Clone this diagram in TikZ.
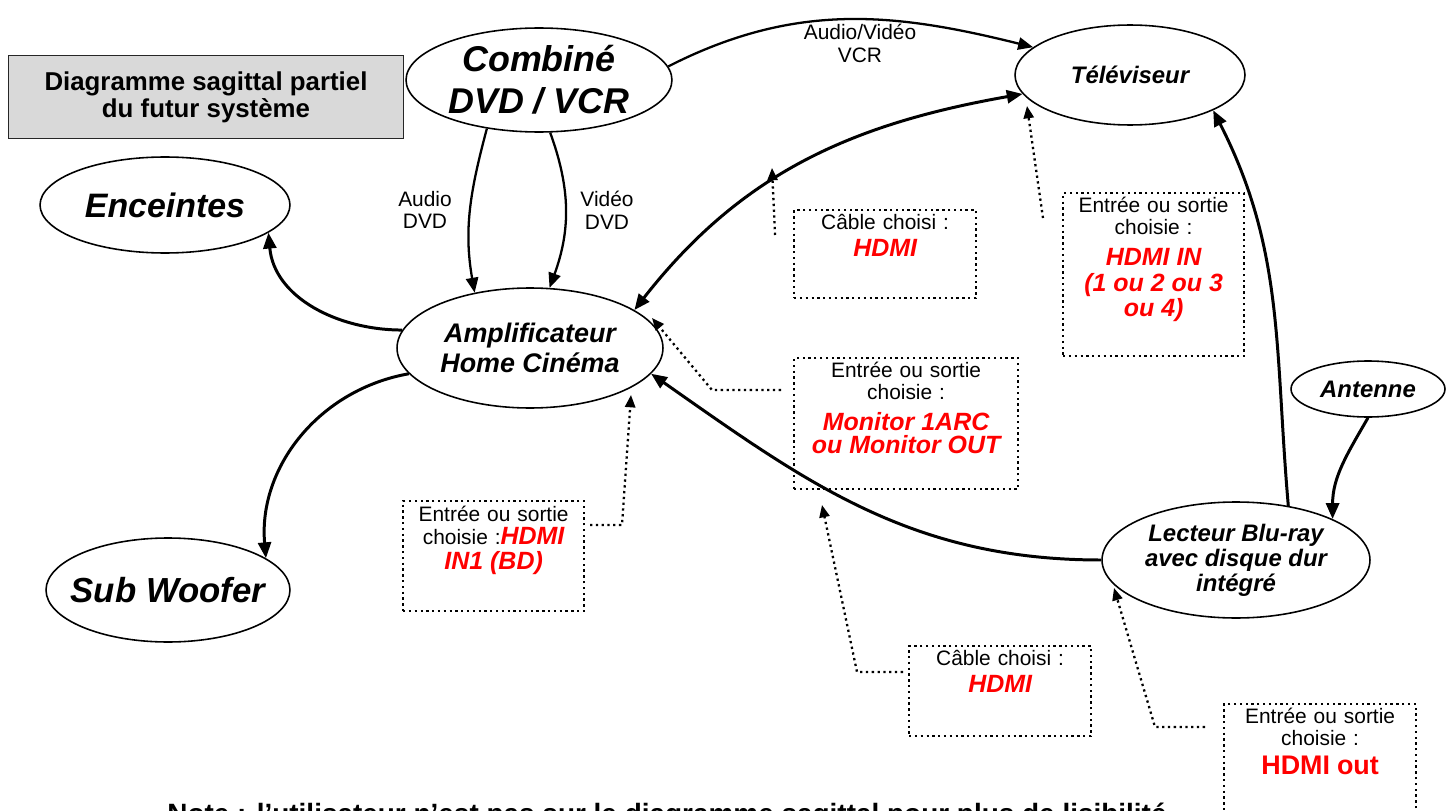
\documentclass[tikz,border=0pt]{standalone}
\usepackage{fontspec}
\setmainfont{Liberation Sans}
\usetikzlibrary{arrows.meta,shapes.geometric}

\newcommand{\taille}[2]{\fontsize{#1}{#2}\selectfont}
\newcommand{\rouge}{\color{red}\bfseries\itshape\taille{14.2}{14.6}}

\tikzset{
  bulle/.style={draw, ellipse, line width=0.9pt, inner sep=0pt},
  titre/.style={draw=black!85, fill=gray!30, line width=1pt, align=center,
    font=\bfseries\taille{14.7}{15.3}, minimum width=7.9cm, minimum height=1.66cm},
  lien/.style={line width=1.7pt, -{Triangle[length=9pt,width=7.4pt]}},
  lienbi/.style={line width=1.7pt, {Triangle[length=9pt,width=7.4pt]}-{Triangle[length=9pt,width=7.4pt]}},
  fin/.style={line width=1.3pt, -{Triangle[length=8.5pt,width=7pt]}},
  pointille/.style={line width=1.3pt, dash pattern=on 1.3pt off 2pt},
  renvoi/.style={pointille, -{Triangle[length=7pt,width=5.8pt]}},
  cadre/.style={draw, pointille, anchor=north west, inner sep=0pt},
  cadretxt/.style={anchor=north, align=center, inner sep=0pt, font=\taille{11.9}{13}},
  lbl/.style={align=center, font=\taille{11.9}{13}},
}

\begin{document}
\begin{tikzpicture}[x=0.02cm, y=-0.02cm]
\useasboundingbox (0,0) rectangle (1451,811);
\clip (0,0) rectangle (1451,811);

\node[titre] (titre) at (206,97) {Diagramme sagittal partiel\\du futur système};

\node[bulle, minimum width=5.32cm, minimum height=2.08cm,
  label={[align=center, font=\bfseries\itshape\taille{20.4}{23.8}]center:Combiné\\DVD / VCR}] (combi) at (539,80) {};
\node[bulle, minimum width=4.6cm, minimum height=2cm,
  label={[font=\bfseries\itshape\taille{13.6}{15}]center:Téléviseur}] (tele) at (1130,75) {};
\node[bulle, minimum width=5cm, minimum height=1.92cm,
  label={[font=\bfseries\itshape\taille{19.3}{21}]center:Enceintes}] (enc) at (165,205) {};
\node[bulle, minimum width=5.32cm, minimum height=2.4cm,
  label={[align=center, font=\bfseries\itshape\taille{15.3}{17}]center:Amplificateur\\Home Cinéma}] (ampli) at (530,348) {};
\node[bulle, minimum width=4.88cm, minimum height=2.08cm,
  label={[font=\bfseries\itshape\taille{19.8}{21}]center:Sub Woofer}] (sub) at (168,590) {};
\node[bulle, minimum width=3.08cm, minimum height=1.12cm,
  label={[font=\bfseries\itshape\taille{13.6}{15}]center:Antenne}] (ant) at (1368,389) {};
\node[bulle, minimum width=5.36cm, minimum height=2.32cm,
  label={[align=center, font=\bfseries\itshape\taille{13.6}{14.2}]center:Lecteur Blu-ray\\avec disque dur\\intégré}] (blu) at (1236,560) {};

\draw[fin] (combi.6) to[out=27,in=166] (tele.164);
\node[lbl] (lvcr) at (860,43) {Audio/Vidéo\\VCR};
\draw[fin] (combi.223) to[out=255,in=100] (ampli.135);
\node[lbl] (laudio) at (425,210) {Audio\\DVD};
\draw[fin] (combi.282) to[out=-70,in=70] (ampli.72);
\node[lbl] (lvideo) at (607,210) {Vidéo\\DVD};

\draw[lienbi] (ampli.20) to[out=52,in=190] (tele.190);
\draw[lien] (blu.180) to[out=180,in=-35] (ampli.-12);
\draw[lien] (blu.46) to[out=95,in=-63] (tele.-23);
\draw[lien] (ant.-90) to[out=-120,in=90] (blu.23);
\draw[lien] (ampli.172) to[out=180,in=-85] (enc.-15);
\draw[lien] (ampli.192) to[out=190,in=95] (sub.18);

\node[cadre, minimum width=3.64cm, minimum height=1.76cm] (cab1) at (793,209) {};
\node[cadretxt, text width=3.5cm] (cab1t) at ([yshift=-3pt]cab1.north) {Câble choisi :\\[2pt] \rouge HDMI};
\node[cadre, minimum width=3.62cm, minimum height=3.26cm] (io1) at (1062,192) {};
\node[cadretxt, text width=3.5cm] (io1t) at ([yshift=-2.5pt]io1.north) {Entrée ou sortie\\choisie :\\[3pt] \rouge HDMI IN\\(1 ou 2 ou 3\\ou 4)};
\node[cadre, minimum width=4.48cm, minimum height=2.62cm] (io2) at (793,357) {};
\node[cadretxt, text width=4.3cm] (io2t) at ([yshift=-2.5pt]io2.north) {Entrée ou sortie\\choisie :\\[3pt] \rouge Monitor 1ARC\\ou Monitor OUT};
\node[cadre, minimum width=3.62cm, minimum height=2.2cm] (io3) at (402,500) {};
\node[cadretxt, text width=3.5cm] (io3t) at ([yshift=-3.5pt]io3.north) {Entrée ou sortie\\choisie :{\rouge HDMI}\\[1pt] \rouge IN1 (BD)};
\node[cadre, minimum width=3.64cm, minimum height=1.8cm] (cab2) at (908,645) {};
\node[cadretxt, text width=3.5cm] (cab2t) at ([yshift=-3pt]cab2.north) {Câble choisi :\\[2pt] \rouge HDMI};
\node[cadre, minimum width=3.84cm, minimum height=3cm] (io4) at (1223,703) {};
\node[cadretxt, text width=3.7cm] (io4t) at ([yshift=-2.5pt]io4.north) {Entrée ou sortie\\choisie :\\[3pt] {\color{red}\bfseries\taille{15.3}{15.5}HDMI out}};

\coordinate (cab1a) at (775,235);
\coordinate (cab1p) at (772,168);
\draw[renvoi] (cab1a) -- (cab1p);
\coordinate (io1a) at (1043,218);
\coordinate (io1p) at (1027,106);
\draw[renvoi] (io1a) -- (io1p);
\coordinate (io2a) at (781,390);
\coordinate (io2b) at (712,390);
\coordinate (io2p) at (652,318);
\draw[renvoi] (io2a) -- (io2b) -- (io2p);
\coordinate (io3a) at (590,525);
\coordinate (io3b) at (622,525);
\coordinate (io3p) at (631,395);
\draw[renvoi] (io3a) -- (io3b) -- (io3p);
\coordinate (cab2a) at (903,672);
\coordinate (cab2b) at (857,672);
\coordinate (cab2p) at (822,505);
\draw[renvoi] (cab2a) -- (cab2b) -- (cab2p);
\coordinate (io4a) at (1205,727);
\coordinate (io4b) at (1155,727);
\coordinate (io4p) at (1114,588);
\draw[renvoi] (io4a) -- (io4b) -- (io4p);

\node[anchor=base west, inner sep=0pt, font=\bfseries\taille{15.9}{17}] (note) at (167,823)
  {Note : l'utilisateur n'est pas sur le diagramme sagittal pour plus de lisibilité};
\end{tikzpicture}
\end{document}
